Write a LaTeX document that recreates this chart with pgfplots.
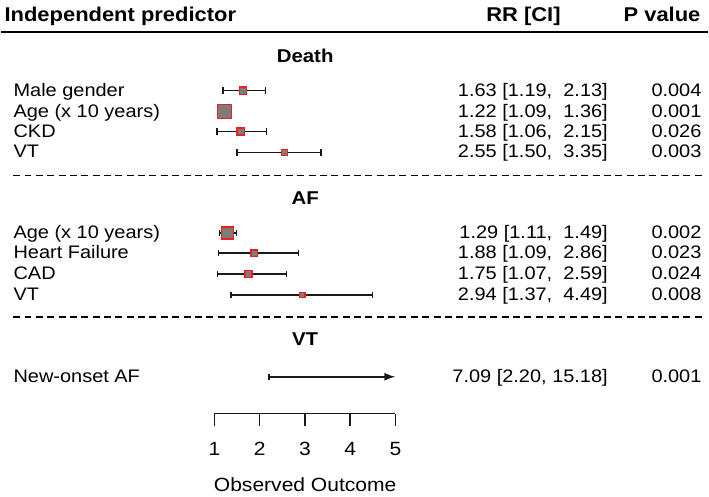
\documentclass[border=0pt]{standalone}
\usepackage{fontspec}
\setmainfont{Liberation Sans}[FakeStretch=1.1]
\usepackage{pgfplots}
\pgfplotsset{compat=1.18}
\usetikzlibrary{arrows.meta}
\definecolor{boxgray}{RGB}{125,125,125}
\definecolor{boxred}{RGB}{240,30,30}
\definecolor{cicol}{RGB}{25,25,25}
\newcommand{\bodyfont}{\fontsize{9.1}{10}\selectfont}
\newcommand{\headfont}{\fontsize{10}{11}\selectfont\bfseries}
\newcommand\sq[3]{\addplot[only marks, mark=square*, mark size=#3, mark options={fill=boxgray, draw=boxred, line width=0.75pt}] coordinates {(#1,#2)};}
\begin{document}
\begin{tikzpicture}
\begin{axis}[scale only axis, width=354.5pt, height=249pt,
  xmin=-3.716, xmax=11.909, ymin=-498, ymax=0, hide axis, clip=false]
% confidence intervals
\addplot[cicol, line width=0.8pt, mark=|, mark size=1.6pt,
  mark options={solid, line width=0.8pt}, unbounded coords=jump] coordinates {
(1.19,-91) (2.13,-91) (nan,nan)
(1.09,-112) (1.36,-112) (nan,nan)
(1.06,-132) (2.15,-132) (nan,nan)
(1.50,-153) (3.35,-153) (nan,nan)
(1.11,-234) (1.49,-234) (nan,nan)
(1.09,-254) (2.86,-254) (nan,nan)
(1.07,-275) (2.59,-275) (nan,nan)
(1.37,-296) (4.49,-296)
};
% New-onset AF (upper CI beyond the scale)
\addplot[cicol, line width=0.8pt, -{Latex[length=5.5pt,width=4pt]}] coordinates {(2.20,-378) (5,-378)};
\addplot[cicol, only marks, mark=|, mark size=1.6pt, mark options={line width=0.8pt}] coordinates {(2.20,-378)};
% point estimates
\sq{1.63}{-91}{1.8pt}
\sq{1.22}{-112}{3.5pt}
\sq{1.58}{-132}{1.8pt}
\sq{2.55}{-153}{1.55pt}
\sq{1.29}{-234}{3pt}
\sq{1.88}{-254}{1.6pt}
\sq{1.75}{-275}{1.8pt}
\sq{2.94}{-296}{1.3pt}
% bottom scale
\draw[cicol, line width=0.8pt] (axis cs:1,-415) -- (axis cs:5,-415);
\pgfplotsinvokeforeach{1,2,3,4,5}{
  \draw[cicol, line width=0.8pt] (axis cs:#1,-415) -- (axis cs:#1,-427);
  \node[anchor=base, inner sep=0pt, font=\fontsize{9.6}{10}\selectfont] at (axis cs:#1,-457) {#1};
}
\end{axis}
\begin{scope}[x=0.5pt, y=-0.5pt, shift={(0,249pt)}]
\path (0,0) rectangle (709,498);
\draw[line width=1.2pt] (0,32) -- (709,32);
\draw[line width=0.6pt, dash pattern=on 3.5pt off 2.2pt] (12,176) -- (703,176);
\draw[line width=0.6pt, dash pattern=on 3.5pt off 2.2pt] (12,318) -- (703,318);
\tikzset{every node/.style={inner sep=0pt}}
\node[anchor=base west, font=\headfont] at (3,22) {Independent predictor};
\node[anchor=base, font=\headfont] at (524,22) {RR [CI]};
\node[anchor=base east, font=\headfont] at (702,22) {P value};
\node[anchor=base, font=\fontsize{9.3}{10}\selectfont\bfseries] at (305,63) {Death};
\node[anchor=base, font=\fontsize{9.3}{10}\selectfont\bfseries] at (305,205) {AF};
\node[anchor=base, font=\fontsize{9.3}{10}\selectfont\bfseries] at (305,347) {VT};
% Death
\node[anchor=base west, font=\bodyfont] at (12,96.5) {Male gender};
\node[anchor=base west, font=\bodyfont] at (12,117.5) {Age (x 10 years)};
\node[anchor=base west, font=\bodyfont] at (12,137.5) {CKD};
\node[anchor=base west, font=\bodyfont] at (12,158.5) {VT};
\node[anchor=base east, font=\bodyfont] at (609,96.5) {1.63 [1.19,\ \ 2.13]};
\node[anchor=base east, font=\bodyfont] at (609,117.5) {1.22 [1.09,\ \ 1.36]};
\node[anchor=base east, font=\bodyfont] at (609,137.5) {1.58 [1.06,\ \ 2.15]};
\node[anchor=base east, font=\bodyfont] at (609,158.5) {2.55 [1.50,\ \ 3.35]};
\node[anchor=base east, font=\bodyfont] at (703,96.5) {0.004};
\node[anchor=base east, font=\bodyfont] at (703,117.5) {0.001};
\node[anchor=base east, font=\bodyfont] at (703,137.5) {0.026};
\node[anchor=base east, font=\bodyfont] at (703,158.5) {0.003};
% AF
\node[anchor=base west, font=\bodyfont] at (12,239.5) {Age (x 10 years)};
\node[anchor=base west, font=\bodyfont] at (12,259.5) {Heart Failure};
\node[anchor=base west, font=\bodyfont] at (12,280.5) {CAD};
\node[anchor=base west, font=\bodyfont] at (12,301.5) {VT};
\node[anchor=base east, font=\bodyfont] at (609,239.5) {1.29 [1.11,\ \ 1.49]};
\node[anchor=base east, font=\bodyfont] at (609,259.5) {1.88 [1.09,\ \ 2.86]};
\node[anchor=base east, font=\bodyfont] at (609,280.5) {1.75 [1.07,\ \ 2.59]};
\node[anchor=base east, font=\bodyfont] at (609,301.5) {2.94 [1.37,\ \ 4.49]};
\node[anchor=base east, font=\bodyfont] at (703,239.5) {0.002};
\node[anchor=base east, font=\bodyfont] at (703,259.5) {0.023};
\node[anchor=base east, font=\bodyfont] at (703,280.5) {0.024};
\node[anchor=base east, font=\bodyfont] at (703,301.5) {0.008};
% VT
\node[anchor=base west, font=\bodyfont] at (12,383.5) {New-onset AF};
\node[anchor=base east, font=\bodyfont] at (609,383.5) {7.09 [2.20, 15.18]};
\node[anchor=base east, font=\bodyfont] at (703,383.5) {0.001};
% axis title
\node[anchor=base, font=\fontsize{9.6}{10}\selectfont] at (305,493) {Observed Outcome};
\end{scope}
\end{tikzpicture}
\end{document}
